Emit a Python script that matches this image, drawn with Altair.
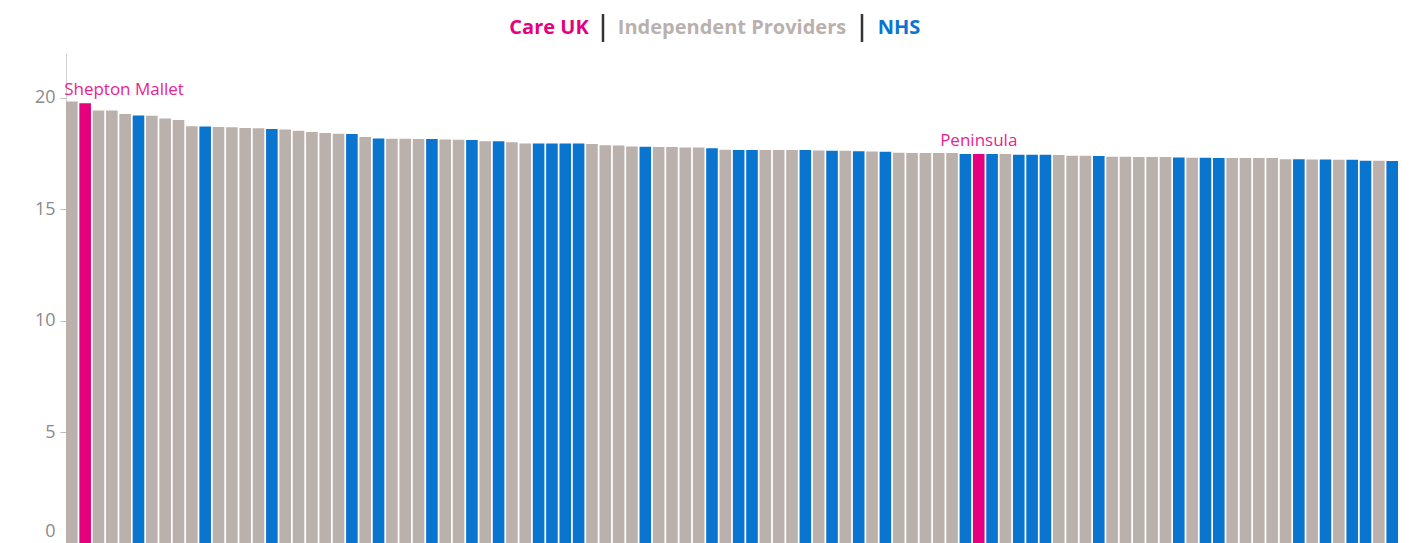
import altair as alt
import pandas as pd

values = [
    19.83, 19.75, 19.42, 19.42, 19.27, 19.20, 19.19, 19.06, 19.00, 18.72,
    18.71, 18.68, 18.67, 18.64, 18.63, 18.60, 18.57, 18.52, 18.46, 18.42,
    18.38, 18.37, 18.24, 18.17, 18.16, 18.16, 18.15, 18.15, 18.12, 18.11,
    18.10, 18.05, 18.05, 18.00, 17.95, 17.95, 17.94, 17.94, 17.94, 17.92,
    17.87, 17.86, 17.81, 17.80, 17.79, 17.79, 17.77, 17.77, 17.73, 17.66,
    17.65, 17.65, 17.65, 17.65, 17.65, 17.65, 17.63, 17.62, 17.62, 17.60,
    17.59, 17.57, 17.53, 17.52, 17.52, 17.52, 17.52, 17.48, 17.48, 17.47,
    17.47, 17.44, 17.44, 17.44, 17.43, 17.40, 17.40, 17.39, 17.35, 17.35,
    17.34, 17.34, 17.34, 17.32, 17.31, 17.31, 17.30, 17.30, 17.30, 17.30,
    17.29, 17.24, 17.24, 17.23, 17.23, 17.22, 17.22, 17.17, 17.17, 17.16,
]

# C = Care UK, I = Independent Providers, N = NHS
group_codes = (
    "ICIIINIIII" "NIIIINIIII" "ININIIINII"
    "NINIINNNNI" "IIINIIIINI" "NNIIINININ"
    "INIIIIINCN" "INNNIIINII" "IIININNIII"
    "IINININNIN"
)
code_names = {"C": "Care UK", "I": "Independent Providers", "N": "NHS"}
groups = [code_names[c] for c in group_codes]

labels = [""] * len(values)
labels[1] = "Shepton Mallet"
labels[68] = "Peninsula"

legend_names = ["Care UK", "Independent Providers", "NHS"]
legend_colors = ["#e5007d", "#bab0ac", "#0a75cf"]
y_ticks = [0, 5, 10, 15, 20]

df = pd.DataFrame({
    "idx": list(range(len(values))),
    "value": values,
    "group": groups,
    "label": labels,
})

x_enc = alt.X("idx:O", axis=None,
              scale=alt.Scale(paddingInner=0.13, paddingOuter=0))
y_enc = alt.Y("value:Q",
              scale=alt.Scale(domain=[0, 22], nice=False),
              axis=alt.Axis(values=y_ticks, title=None, grid=False,
                            labelFont="Open Sans", labelFontSize=18,
                            labelColor="#8a8a8a", labelPadding=5,
                            tickSize=6, tickColor="#bbbbbb",
                            domainColor="#d0d0d0",
                            labelOffset={"condition": {"test": "datum.value == 0", "value": -13}, "value": 0}))

base = alt.Chart(df)

bars = base.mark_bar().encode(
    x=x_enc,
    y=y_enc,
    color=alt.Color("group:N", legend=None,
                    scale=alt.Scale(domain=legend_names, range=legend_colors)),
)

lab_left = base.transform_filter("datum.label == 'Shepton Mallet'").mark_text(
    align="left", baseline="alphabetic", dx=-21, dy=-8,
    font="Open Sans", fontSize=17, color="#e8248f"
).encode(x=x_enc, y=alt.Y("value:Q"), text="label:N")

lab_center = base.transform_filter("datum.label == 'Peninsula'").mark_text(
    align="center", baseline="alphabetic", dy=-8,
    font="Open Sans", fontSize=17, color="#e8248f"
).encode(x=x_enc, y=alt.Y("value:Q"), text="label:N")

legend_x = [483, 666, 833]
legend_layers = []
for name, col, lx in zip(legend_names, legend_colors, legend_x):
    legend_layers.append(
        alt.Chart(pd.DataFrame({"t": [name]})).mark_text(
            align="center", baseline="middle", font="Open Sans",
            fontSize=20, fontWeight="bold", color=col
        ).encode(x=alt.value(lx), y=alt.value(-25), text="t:N")
    )
for sx in [537, 796]:
    legend_layers.append(
        alt.Chart(pd.DataFrame({"t": [0]})).mark_rule(
            color="#333333", strokeWidth=2.5
        ).encode(x=alt.value(sx), y=alt.value(-39), y2=alt.value(-11))
    )

chart = alt.layer(bars, lab_left, lab_center, *legend_layers).properties(
    width=1332, height=491,
    autosize=alt.AutoSizeParams(type="none"),
    padding={"left": 58, "top": 45, "right": 4, "bottom": 0},
    background="white",
).configure_view(strokeOpacity=0, strokeWidth=0)

chart.save("out.html", embed_options={"renderer": "svg", "actions": False})
